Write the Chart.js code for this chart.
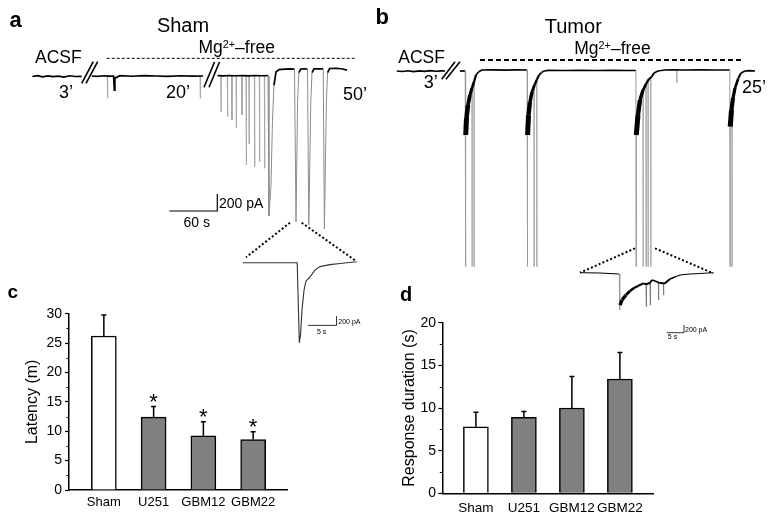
<!DOCTYPE html>
<html>
<head>
<meta charset="utf-8">
<script src="https://cdn.jsdelivr.net/npm/chart.js@4.4.1/dist/chart.umd.min.js"></script>
<style>
  html, body { margin:0; padding:0; background:#fff; }
  body { position:relative; width:775px; height:520px; overflow:hidden; font-family:"Liberation Sans", Arial, sans-serif; color:#000; }
  canvas { position:absolute; }
  .t { position:absolute; white-space:nowrap; line-height:1; }
  .c { transform:translateX(-50%); }
  .b { font-weight:bold; }
  sup { font-size:0.62em; vertical-align:0.45em; line-height:0; }
</style>
</head>
<body>
<canvas id="traceA" width="385" height="320" style="left:0;top:30px"></canvas>
<canvas id="traceB" width="390" height="320" style="left:385px;top:30px"></canvas>
<canvas id="chartC" width="300" height="230" style="left:0;top:290px"></canvas>
<canvas id="chartD" width="300" height="230" style="left:390px;top:290px"></canvas>

<div class="t b" style="left:9.5px;top:9.4px;font-size:22px">a</div>
<div class="t b" style="left:375.5px;top:6.4px;font-size:22px">b</div>
<div class="t b" style="left:7.5px;top:282.4px;font-size:19px">c</div>
<div class="t b" style="left:400px;top:284.1px;font-size:20px">d</div>

<div class="t c" style="left:183px;top:14.8px;font-size:20px">Sham</div>
<div class="t c" style="left:573.3px;top:16.4px;font-size:20px">Tumor</div>
<div class="t c" style="left:236.7px;top:38.5px;font-size:17.5px">Mg<sup>2+</sup>–free</div>
<div class="t c" style="left:612.5px;top:40.2px;font-size:17.5px">Mg<sup>2+</sup>–free</div>
<div class="t" style="left:35px;top:49.2px;font-size:17.5px">ACSF</div>
<div class="t" style="left:398.3px;top:49.2px;font-size:17.5px">ACSF</div>
<div class="t c" style="left:65.9px;top:82.8px;font-size:18px">3’</div>
<div class="t c" style="left:178px;top:82.8px;font-size:18px">20’</div>
<div class="t c" style="left:355px;top:84.8px;font-size:18px">50’</div>
<div class="t c" style="left:430.8px;top:73.1px;font-size:18px">3’</div>
<div class="t c" style="left:754px;top:78.1px;font-size:18px">25’</div>
<div class="t" style="left:219px;top:196.4px;font-size:14px">200 pA</div>
<div class="t c" style="left:196.7px;top:214.9px;font-size:14px">60 s</div>
<div class="t" style="left:338.3px;top:318.1px;font-size:7px">200 pA</div>
<div class="t c" style="left:321.7px;top:328.1px;font-size:7px">5 s</div>
<div class="t" style="left:685px;top:325.8px;font-size:7px">200 pA</div>
<div class="t c" style="left:672.5px;top:333.4px;font-size:7px">5 s</div>

<script>
// ---------------- DATA ----------------
// Bar charts (c, d)
const categories     = ['Sham', 'U251', 'GBM12', 'GBM22'];
const latencyMean    = [26.2, 12.4, 9.2, 8.6];     // minutes
const latencyErr     = [3.6, 1.8, 2.4, 1.3];
const latencyStars   = ['', '*', '*', '*'];
const latencyTicks   = [0, 5, 10, 15, 20, 25, 30];
const durationMean   = [7.8, 8.9, 10.0, 13.4];     // seconds
const durationErr    = [1.7, 0.7, 3.7, 3.1];
const durationTicks  = [0, 5, 10, 15, 20];

// Panel a (Sham) recording: time (s, breaks compressed), current (pA); null = break
const shamT = [15.4, 22, 28, 35, 41, 48, 55, 62, 69, 77.1,
  83,
  89.6, 97, 105, 110, 117, 117.9, 118.6, 125, 140, 155, 170, 185, 200, 215, 229,
  238,
  247, 255, 262, 270, 278, 286, 294, 302, 310,
  311.2, 313.75, 315.6, 317.5, 320, 323.75, 331, 337, 343.1,
  345, 347, 348.5, 351, 355, 359.4,
  361, 363.5, 365, 367.5, 372, 379,
  380.5, 383, 384.5, 387, 395, 402, 408.75];
const shamI = [-6, 4, -10, 2, -8, -2, -12, 3, -6, -4,
  null,
  0, -4, 3, -2, 0, -165, -25, 4, -3, 5, 0, -4, 3, -2, 0,
  null,
  4, 2, 6, 3, 5, 2, 6, 3, 4,
  -1647, -1282, -518, -106, 47, 76, 82, 85, 82,
  -1718, -300, 40, 82, 85, 82,
  -1753, -300, 40, 85, 83, 85,
  -1800, -300, 40, 88, 90, 85, 70];
const shamSpikeT   = [109.1, 225, 250.9, 259.1, 264.6, 270, 277.1, 282.5, 286, 292.9, 299.1, 305.4];
const shamSpikeTop = [0, 0, 4, 4, 4, 4, 4, 4, 4, 4, 4, 4];
const shamSpikeI   = [-262, -262, -420, -478, -517, -611, -458, -1047, -800, -1067, -1008, -1086];
// Panel a inset (expanded event)
const shamZoomT = [0, 4, 9.6, 9.97, 10.18, 10.44, 10.8, 11.15, 11.85, 12.73, 13.6, 15.37, 17.13, 20.07];
const shamZoomI = [0, 0, 0, -1720, -1554, -1017, -587, -393, -301, -157, -82, -39, -17, 21];

// Panel b (Tumor) recording
const tumorT = [0, 7, 14, 21, 28, 35, 42, 49, 56, 60.4,
  70,
  79, 85.6,
  86.1, 86.25, 87.25, 89.1, 91.6, 94.1, 96.6, 99.1, 102.9, 106.6, 120, 135, 150, 163,
  163.4, 163.6, 164.75, 166.6, 169.1, 172.25, 175, 177.9, 181, 184.1, 190, 210, 230, 250, 270, 290, 299,
  299.3, 299.5, 301.6, 304.1, 307.9, 311.6, 315.4, 318.75, 321.6, 326.6, 335, 345, 360, 380, 400, 416.4,
  416.7, 416.9, 418.5, 420.4, 422.9, 427, 430.4, 435.4, 441, 447.9];
const tumorI = [0, -6, 3, -8, 2, -5, 4, -3, 1, 0,
  null,
  0, 0,
  -2302, -753, -553, -400, -282, -200, -129, -47, -6, 12, 14, 10, 14, 12,
  -2302, -753, -518, -365, -247, -165, -106, -47, -18, 0, 8, 6, 8, 6, 8, 6, 6,
  -2302, -753, -518, -341, -224, -153, -94, -67, -24, 0, 12, 14, 12, 14, 12, 12,
  -2302, -655, -459, -318, -200, -86, -24, 0, 5, 0];
const tumorSpikeT   = [94.1, 96.6, 171.6, 175, 307.9, 311.6, 314.1, 317.5, 350, 419];
const tumorSpikeTop = [-200, -129, -200, -106, -224, -153, -120, -67, 12, -459];
const tumorSpikeI   = [-2302, -2302, -2302, -2302, -2302, -2302, -2302, -2302, -141, -2302];
// Panel b inset
const tumorZoomT = [0, 5.78, 11.36, 11.42, 11.56, 12.14, 13.29, 14.45, 15.6, 16.76, 18.29,
  19.1, 20.2, 20.8, 21.7, 23.1, 24.57, 26, 27.46, 28.9, 31.8, 34.7, 38.5];
const tumorZoomI = [0, -8, -34, -970, -840, -710, -580, -476, -398, -346, -276,
  -300, -268, -190, -216, -268, -276, -164, -112, -60, -34, -21, 0];
const tumorZoomSpikeT   = [19.07, 20.23, 22.63, 24.07];
const tumorZoomSpikeTop = [-300, -268, -268, -276];
const tumorZoomSpikeI   = [-884, -840, -710, -580];

// ---------------- HELPERS ----------------
const FONT = '"Liberation Sans", Arial, sans-serif';
Chart.defaults.font.family = FONT;
Chart.defaults.color = '#000';

const pts = (T, I) => T.map((t, i) => ({ x: t, y: I[i] }));
function spikePts(T, top, depth, dt) {
  const out = [];
  T.forEach((t, i) => {
    out.push({ x: t, y: top[i] }, { x: t + dt, y: depth[i] }, { x: t + 2 * dt, y: top[i] }, { x: t, y: null });
  });
  return out;
}
const seg = (a, b) => [{ x: a[0], y: a[1] }, { x: b[0], y: b[1] }];
function deco(data, width, dash, axes) {
  const d = { data, borderColor: '#000', borderWidth: width, borderDash: dash || [], order: 0 };
  if (axes) { d.xAxisID = 'x2'; d.yAxisID = 'y2'; }
  return d;
}
// deep segments are drawn thin & gray; burst segments get thicker with depth (dense noisy band)
function traceStyle(deep, thin, perPA, maxW, gray) {
  const m = c => Math.min(c.p0.parsed.y, c.p1.parsed.y);
  return {
    borderColor: c => (m(c) < deep ? gray : '#000'),
    borderWidth: c => (m(c) < deep ? 1 : Math.min(maxW, thin + Math.max(0, -m(c) - 30) * perPA))
  };
}
function traceChart(id, datasets, sc) {
  return new Chart(document.getElementById(id), {
    type: 'line',
    data: { datasets },
    options: {
      responsive: false, animation: false, events: [], devicePixelRatio: 1,
      layout: { padding: 0 },
      spanGaps: false,
      plugins: { legend: { display: false }, tooltip: { enabled: false } },
      elements: { point: { radius: 0 }, line: { tension: 0, borderCapStyle: 'butt' } },
      scales: {
        x:  { type: 'linear', display: false, min: sc.x[0],  max: sc.x[1] },
        y:  { type: 'linear', display: false, min: sc.y[0],  max: sc.y[1] },
        x2: { type: 'linear', display: false, min: sc.x2[0], max: sc.x2[1] },
        y2: { type: 'linear', display: false, min: sc.y2[0], max: sc.y2[1] }
      }
    }
  });
}

// ---------------- PANEL a ----------------
traceChart('traceA', [
  { data: pts(shamT, shamI), borderColor: '#000', borderWidth: 1.6, order: 1,
    segment: traceStyle(-250, 1.7, 0, 1.7, '#8c8c8c') },
  { data: spikePts(shamSpikeT, shamSpikeTop, shamSpikeI, 0.35), borderColor: '#a8a8a8', borderWidth: 1, order: 2 },
  { data: pts(shamZoomT, shamZoomI), xAxisID: 'x2', yAxisID: 'y2', borderColor: '#333', borderWidth: 1.1, order: 1 },
  // Mg2+-free bar (dashed)
  deco(seg([108.4, 208], [420.9, 208]), 1, [3, 2]),
  // axis breaks
  deco(seg([77.1, -86], [91.6, 168]), 1.6), deco(seg([82.5, -86], [97.1, 168]), 1.6),
  deco(seg([230, -133], [243.1, 165]), 1.6), deco(seg([236.25, -133], [249.4, 165]), 1.6),
  // scale bar 60 s / 200 pA
  deco([{ x: 186.6, y: -1588 }, { x: 246.6, y: -1588 }, { x: 246.6, y: -1388 }], 1.2),
  // zoom connectors
  deco(seg([337.5, -1726], [282.5, -2133]), 2, [2, 2.2]),
  deco(seg([352.1, -1726], [420, -2176]), 2, [2, 2.2]),
  // inset scale bar 5 s / 200 pA
  deco([{ x: 11.52, y: -1346 }, { x: 16.52, y: -1346 }, { x: 16.52, y: -1146 }], 0.8, null, true)
], { x: [-25, 456.25], y: [-3223.5, 541.2], x2: [-42.74, 25.06], y2: [-1874.5, 5003] });

// ---------------- PANEL b ----------------
traceChart('traceB', [
  { data: pts(tumorT, tumorI), borderColor: '#000', borderWidth: 1.6, order: 1,
    segment: traceStyle(-1000, 1.7, 0.0055, 5, '#9a9a9a') },
  { data: spikePts(tumorSpikeT, tumorSpikeTop, tumorSpikeI, 0.15), borderColor: '#a8a8a8', borderWidth: 1, order: 2 },
  { data: pts(tumorZoomT, tumorZoomI), xAxisID: 'x2', yAxisID: 'y2', borderColor: '#000', borderWidth: 1, order: 1,
    segment: traceStyle(-900, 1, 0.0035, 3.4, '#9a9a9a') },
  { data: spikePts(tumorZoomSpikeT, tumorZoomSpikeTop, tumorZoomSpikeI, 0.08), xAxisID: 'x2', yAxisID: 'y2',
    borderColor: '#777', borderWidth: 0.9, order: 2 },
  deco(seg([104.1, 129.4], [430.9, 129.4]), 2, [5, 3]),
  deco(seg([56.25, -98], [72.9, 109]), 1.6), deco(seg([61.6, -98], [79.1, 109]), 1.6),
  deco(seg([297.9, -2086], [229.1, -2373]), 2, [2, 2.2]),
  deco(seg([322.9, -2086], [395.75, -2380]), 2, [2, 2.2]),
  deco([{ x: 25.06, y: -1558 }, { x: 30.06, y: -1558 }, { x: 30.06, y: -1358 }], 0.8, null, true)
], { x: [-14.625, 472.875], y: [-3282.35, 482.35], x2: [-56.36, 56.36], y2: [-2007.8, 6303.9] });

// ---------------- BAR CHARTS ----------------
const errorBars = {
  id: 'errorBars',
  afterDatasetsDraw(chart) {
    const { ctx } = chart, y = chart.scales.y;
    const ds = chart.data.datasets[0];
    const meta = chart.getDatasetMeta(0);
    ctx.save();
    ctx.strokeStyle = '#000'; ctx.lineWidth = 1.5; ctx.fillStyle = '#000';
    meta.data.forEach((bar, i) => {
      const top = y.getPixelForValue(ds.means[i] + ds.errors[i]);
      ctx.beginPath();
      ctx.moveTo(bar.x, bar.y); ctx.lineTo(bar.x, top);
      ctx.moveTo(bar.x - 2.5, top); ctx.lineTo(bar.x + 2.5, top);
      ctx.stroke();
      if (ds.stars && ds.stars[i]) {
        ctx.font = '22px ' + FONT; ctx.textAlign = 'center'; ctx.textBaseline = 'alphabetic';
        ctx.fillText(ds.stars[i], bar.x, top + 2);
      }
    });
    ctx.restore();
  }
};
const minorTicks = {
  id: 'minorTicks',
  afterDraw(chart) {
    const y = chart.scales.y, ctx = chart.ctx, left = chart.chartArea.left;
    const step = y.options.ticks.stepSize;
    ctx.save(); ctx.strokeStyle = '#000'; ctx.lineWidth = 1;
    for (let v = y.min + step / 2; v < y.max; v += step) {
      const p = Math.round(y.getPixelForValue(v)) + 0.5;
      ctx.beginPath(); ctx.moveTo(left, p); ctx.lineTo(left - 2.5, p); ctx.stroke();
    }
    ctx.restore();
  }
};

function barChart(id, mean, err, stars, ticks, title, L) {
  return new Chart(document.getElementById(id), {
    type: 'bar',
    data: {
      datasets: [{
        data: categories.map((c, i) => ({ x: i + 1, y: mean[i] })),
        means: mean, errors: err, stars,
        backgroundColor: categories.map((c, i) => (i === 0 ? '#ffffff' : '#808080')),
        borderColor: '#000', borderWidth: 1.5, borderSkipped: 'start', barThickness: 25
      }]
    },
    options: {
      responsive: false, animation: false, events: [], devicePixelRatio: 1,
      layout: { padding: { left: 0, right: L.right, top: L.top, bottom: 0 } },
      plugins: { legend: { display: false }, tooltip: { enabled: false } },
      scales: {
        x: {
          type: 'linear', offset: false, min: 0.3, max: L.xmax,
          afterBuildTicks: s => { s.ticks = categories.map((c, i) => ({ value: i + 1 })); },
          ticks: { callback: (v, i) => categories[i], font: { size: L.xfont }, color: '#000', padding: L.xpad, autoSkip: false, maxRotation: 0 },
          grid: { drawOnChartArea: false, drawTicks: false },
          border: { color: '#000', width: 1.5 },
          afterFit: s => { s.height = L.xh; }
        },
        y: {
          min: ticks[0], max: ticks[ticks.length - 1],
          ticks: { stepSize: ticks[1] - ticks[0], font: { size: 14 }, color: '#000', padding: L.ypad },
          grid: { drawOnChartArea: false, tickLength: 4, tickWidth: 1.2, tickColor: '#000' },
          border: { color: '#000', width: 1.5 },
          title: { display: true, text: title, font: { size: 16 }, color: '#000', padding: { top: L.tpad, bottom: 0 } },
          afterFit: s => { s.width = L.yw; }
        }
      }
    },
    plugins: [errorBars, minorTicks]
  });
}

barChart('chartC', latencyMean, latencyErr, latencyStars, latencyTicks, 'Latency (m)',
  { right: 13, top: 23.7, xmax: 4.68, xfont: 13, xpad: 5, xh: 30, ypad: 3, tpad: 23.4, yw: 69 });
barChart('chartD', durationMean, durationErr, null, durationTicks, 'Response duration (s)',
  { right: 37, top: 32.7, xmax: 4.69, xfont: 13.5, xpad: 6.5, xh: 26.7, ypad: 2.3, tpad: 10.4, yw: 52.3 });
</script>
</body>
</html>
